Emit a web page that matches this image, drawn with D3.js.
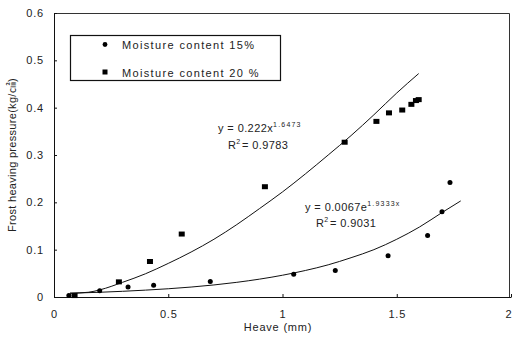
<!DOCTYPE html>
<html>
<head>
<meta charset="utf-8">
<script src="https://cdn.jsdelivr.net/npm/d3@7"></script>
<style>
  body { margin: 0; background: #fff; }
  text { font-family: 'Liberation Sans', Arial, 'Noto Sans CJK KR', sans-serif; fill: #222; }
</style>
</head>
<body>
<div id="chart"></div>
<script>
// measured points, moisture content 15 %
var heave15 = [0.065, 0.2, 0.324, 0.436, 0.684, 1.049, 1.231, 1.462, 1.635, 1.698, 1.733]
var pressure15 = [0.003, 0.013, 0.021, 0.025, 0.033, 0.048, 0.056, 0.087, 0.130, 0.180, 0.242]

// measured points, moisture content 20 %
var heave20 = [0.09, 0.284, 0.42, 0.559, 0.923, 1.272, 1.411, 1.466, 1.524, 1.564, 1.584, 1.596]
var pressure20 = [0.003, 0.032, 0.075, 0.133, 0.233, 0.327, 0.371, 0.389, 0.395, 0.407, 0.415, 0.417]

// trend line (power fit, 20 %)
var powX = [0.07, 0.15, 0.2, 0.3, 0.4, 0.5, 0.6, 0.7, 0.8, 0.9, 1.0, 1.1, 1.2, 1.3, 1.4, 1.5, 1.596]
var powY = [0.008, 0.010, 0.015, 0.031, 0.049, 0.071, 0.095, 0.122, 0.153, 0.187, 0.222, 0.260, 0.300, 0.341, 0.385, 0.431, 0.472]

// trend line (exponential fit, 15 %)
var expX = [0.07, 0.2, 0.4, 0.6, 0.8, 1.0, 1.1, 1.2, 1.3, 1.4, 1.5, 1.6, 1.7, 1.78]
var expY = [0.008, 0.010, 0.0145, 0.021, 0.031, 0.046, 0.056, 0.068, 0.083, 0.100, 0.122, 0.148, 0.179, 0.203]

var xTicks = [0, 0.5, 1, 1.5, 2]
var yTicks = [0, 0.1, 0.2, 0.3, 0.4, 0.5, 0.6]

var legendLabels = ['Moisture content 15%', 'Moisture content 20 %']

var svgWidth = 512
var svgHeight = 343

var svg = d3.select('#chart')
  .append('svg')
  .attr('width', svgWidth)
  .attr('height', svgHeight)

var x = d3.scaleLinear().domain([0, 2]).range([54, 511])
var y = d3.scaleLinear().domain([0, 0.6]).range([297, 13])

// frame (top and right)
svg.append('path')
  .attr('d', `M${x(0)},${y(0.6) + 0.5}H${x(2) - 1.5}V${y(0)}`)
  .attr('fill', 'none')
  .attr('stroke', '#333')
  .attr('stroke-width', 1)

// axes with inward ticks
var xAxis = d3.axisBottom(x)
  .tickValues(xTicks)
  .tickSizeInner(-3)
  .tickSizeOuter(0)
  .tickPadding(13)
  .tickFormat(d3.format('~g'))

var yAxis = d3.axisLeft(y)
  .tickValues(yTicks)
  .tickSizeInner(-3)
  .tickSizeOuter(0)
  .tickPadding(10)
  .tickFormat(d => d === 0 ? '0' : d3.format('.1f')(d))

var gx = svg.append('g')
  .attr('transform', `translate(0, ${y(0)})`)
  .call(xAxis)

var gy = svg.append('g')
  .attr('transform', `translate(${x(0)}, 0)`)
  .call(yAxis)

svg.selectAll('.domain, .tick line').attr('stroke', '#111')
svg.selectAll('.tick text')
  .attr('font-size', 11)
  .attr('fill', '#222')
  .style('letter-spacing', '0.8px')
  .style('font-family', "'Liberation Sans', Arial, sans-serif")

// the last x label sits on the window edge, keep it inside
gx.selectAll('.tick text')
  .filter(d => d === 2)
  .attr('text-anchor', 'end')
  .attr('x', 1)

// axis titles
svg.append('text')
  .attr('x', 278)
  .attr('y', 331)
  .attr('text-anchor', 'middle')
  .attr('font-size', 11)
  .style('letter-spacing', '0.8px')
  .text('Heave (mm)')

svg.append('text')
  .attr('transform', 'translate(16, 155) rotate(-90)')
  .attr('text-anchor', 'middle')
  .attr('font-size', 11)
  .style('letter-spacing', '0.3px')
  .text('Frost heaving pressure(kg/㎠)')

// trend lines
var line = d3.line()
  .x(d => x(d[0]))
  .y(d => y(d[1]))
  .curve(d3.curveMonotoneX)

svg.append('path')
  .datum(d3.zip(powX, powY))
  .attr('d', line)
  .attr('fill', 'none')
  .attr('stroke', '#111')
  .attr('stroke-width', 1)

svg.append('path')
  .datum(d3.zip(expX, expY))
  .attr('d', line)
  .attr('fill', 'none')
  .attr('stroke', '#111')
  .attr('stroke-width', 1)

// points
svg.selectAll('.pt15')
  .data(d3.zip(heave15, pressure15))
  .enter()
  .append('circle')
  .attr('class', 'pt15')
  .attr('cx', d => x(d[0]))
  .attr('cy', d => y(d[1]))
  .attr('r', 2.5)
  .attr('fill', '#000')

svg.selectAll('.pt20')
  .data(d3.zip(heave20, pressure20))
  .enter()
  .append('rect')
  .attr('class', 'pt20')
  .attr('x', d => x(d[0]) - 3)
  .attr('y', d => y(d[1]) - 2.5)
  .attr('width', 6)
  .attr('height', 5)
  .attr('fill', '#000')

// legend
var legend = svg.append('g')

legend.append('rect')
  .attr('x', 70.5)
  .attr('y', 35.5)
  .attr('width', 210)
  .attr('height', 45)
  .attr('fill', '#fff')
  .attr('stroke', '#111')
  .attr('stroke-width', 1.2)

legend.append('circle')
  .attr('cx', 105)
  .attr('cy', 44.5)
  .attr('r', 2.4)
  .attr('fill', '#000')

legend.append('rect')
  .attr('x', 102.5)
  .attr('y', 69.5)
  .attr('width', 5)
  .attr('height', 5)
  .attr('fill', '#000')

legend.selectAll('.legText')
  .data(legendLabels)
  .enter()
  .append('text')
  .attr('class', 'legText')
  .attr('x', 122)
  .attr('y', (d, i) => 48.5 + i * 28)
  .attr('font-size', 11)
  .style('letter-spacing', '1.35px')
  .text(d => d)

// fit equations
function equation (xPos, yPos, base, power) {
  var t = svg.append('text')
    .attr('x', xPos)
    .attr('y', yPos)
    .attr('font-size', 11)
    .style('letter-spacing', '0.4px')
  t.append('tspan').text(base)
  t.append('tspan')
    .attr('font-size', 7)
    .attr('dy', -5)
    .style('letter-spacing', '1.2px')
    .text(power)
}

equation(218, 132, 'y = 0.222x', '1.6473')
equation(228, 149, 'R', '2')
svg.append('text').attr('x', 242).attr('y', 149).attr('font-size', 11)
  .style('letter-spacing', '0.4px').text('= 0.9783')

equation(305, 211, 'y = 0.0067e', '1.9333x')
equation(316, 227, 'R', '2')
svg.append('text').attr('x', 330).attr('y', 227).attr('font-size', 11)
  .style('letter-spacing', '0.4px').text('= 0.9031')
</script>
</body>
</html>
